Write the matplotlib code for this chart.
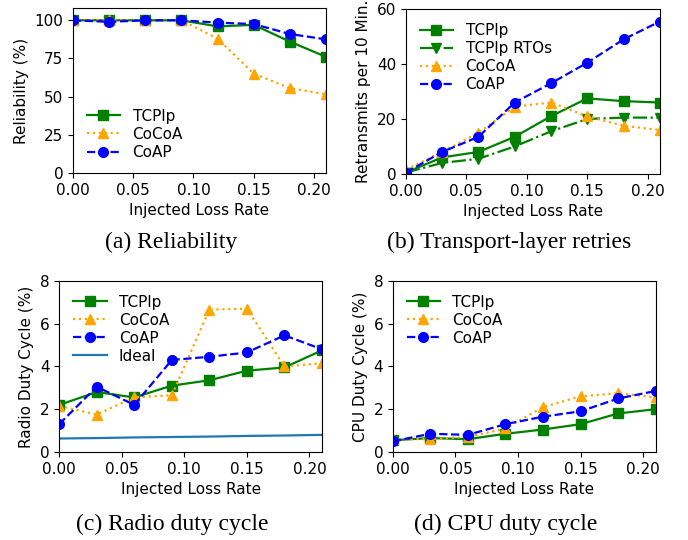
import matplotlib
matplotlib.use("Agg")
from matplotlib import pyplot as plt

loss_rate = [0.00, 0.03, 0.06, 0.09, 0.12, 0.15, 0.18, 0.21]

# (a) reliability (%)
rel_tcplp = [100, 100, 100, 100, 96, 97, 86, 76]
rel_cocoa = [100, 100, 100, 100, 88, 65, 55.5, 51.5]
rel_coap = [100, 99, 100, 100, 98.5, 97.5, 91, 87.5]

# (b) retransmits per 10 min
ret_tcplp = [0.5, 6, 8, 13.5, 21, 27.5, 26.5, 26]
ret_tcplp_rto = [0.5, 4, 5.5, 10, 15.5, 20, 20.5, 20.5]
ret_cocoa = [1.5, 8, 15, 24.5, 26, 21, 17.5, 16]
ret_coap = [0.5, 8, 13.5, 26, 33, 40.5, 49, 55.5]

# (c) radio duty cycle (%)
radio_tcplp = [2.2, 2.8, 2.55, 3.1, 3.35, 3.8, 3.95, 4.75]
radio_cocoa = [2.15, 1.75, 2.55, 2.65, 6.65, 6.7, 4.0, 4.15]
radio_coap = [1.3, 3.05, 2.2, 4.3, 4.45, 4.65, 5.45, 4.8]
radio_ideal = [0.63, 0.65, 0.68, 0.70, 0.72, 0.75, 0.77, 0.80]

# (d) CPU duty cycle (%)
cpu_tcplp = [0.55, 0.65, 0.6, 0.85, 1.05, 1.3, 1.8, 2.0]
cpu_cocoa = [0.6, 0.6, 0.7, 1.1, 2.1, 2.6, 2.75, 2.55]
cpu_coap = [0.5, 0.85, 0.8, 1.3, 1.65, 1.9, 2.5, 2.85]

captions = ["(a) Reliability", "(b) Transport-layer retries",
            "(c) Radio duty cycle", "(d) CPU duty cycle"]

plt.rcParams["font.size"] = 11

TCPLP = dict(color="green", marker="s", linestyle="-", label="TCPlp")
RTO = dict(color="green", marker="v", linestyle="-.", label="TCPlp RTOs")
COCOA = dict(color="orange", marker="^", linestyle=":", label="CoCoA")
COAP = dict(color="blue", marker="o", linestyle="--", label="CoAP")
LEG = dict(frameon=False, labelspacing=0.2, handlelength=2.2)


def style(ax, ylabel, ylim, yticks):
    ax.set_xlim(0, 0.21)
    ax.set_xticks([0, 0.05, 0.10, 0.15, 0.20])
    ax.set_xticklabels(["0.00", "0.05", "0.10", "0.15", "0.20"])
    ax.set_ylim(*ylim)
    ax.set_yticks(yticks)
    ax.set_xlabel("Injected Loss Rate")
    ax.set_ylabel(ylabel)


fig = plt.figure(figsize=(6.88, 5.4), dpi=100)
lw, ms = 1.6, 7

ax_a = fig.add_axes([0.106, 0.680, 0.368, 0.305])
ax_a.plot(loss_rate, rel_tcplp, lw=lw, ms=ms, **TCPLP)
ax_a.plot(loss_rate, rel_cocoa, lw=lw, ms=ms, **COCOA)
ax_a.plot(loss_rate, rel_coap, lw=lw, ms=ms, **COAP)
style(ax_a, "Reliability (%)", (0, 108), [0, 25, 50, 75, 100])
ax_a.legend(loc="lower left", bbox_to_anchor=(0.0, -0.005), **LEG)

ax_b = fig.add_axes([0.590, 0.678, 0.369, 0.305])
ax_b.plot(loss_rate, ret_tcplp, lw=lw, ms=ms, **TCPLP)
ax_b.plot(loss_rate, ret_tcplp_rto, lw=lw, ms=ms, **RTO)
ax_b.plot(loss_rate, ret_cocoa, lw=lw, ms=ms, **COCOA)
ax_b.plot(loss_rate, ret_coap, lw=lw, ms=ms, **COAP)
style(ax_b, "Retransmits per 10 Min.", (0, 60), [0, 20, 40, 60])
ax_b.legend(loc="upper left", **LEG)

ax_c = fig.add_axes([0.086, 0.163, 0.382, 0.317])
ax_c.plot(loss_rate, radio_tcplp, lw=lw, ms=ms, **TCPLP)
ax_c.plot(loss_rate, radio_cocoa, lw=lw, ms=ms, **COCOA)
ax_c.plot(loss_rate, radio_coap, lw=lw, ms=ms, **COAP)
ax_c.plot(loss_rate, radio_ideal, color="tab:blue", lw=lw, label="Ideal")
style(ax_c, "Radio Duty Cycle (%)", (0, 8), [0, 2, 4, 6, 8])
ax_c.legend(loc="upper left", **LEG)

ax_d = fig.add_axes([0.571, 0.163, 0.382, 0.317])
ax_d.plot(loss_rate, cpu_tcplp, lw=lw, ms=ms, **TCPLP)
ax_d.plot(loss_rate, cpu_cocoa, lw=lw, ms=ms, **COCOA)
ax_d.plot(loss_rate, cpu_coap, lw=lw, ms=ms, **COAP)
style(ax_d, "CPU Duty Cycle (%)", (0, 8), [0, 2, 4, 6, 8])
ax_d.legend(loc="upper left", **LEG)

serif = dict(family="Liberation Serif", fontsize=17, ha="center", va="center")
fig.text(171 / 688, 1 - 242 / 540, captions[0], **serif)
fig.text(509 / 688, 1 - 242 / 540, captions[1], **serif)
fig.text(172 / 688, 1 - 524 / 540, captions[2], **serif)
fig.text(506 / 688, 1 - 524 / 540, captions[3], **serif)

fig.savefig("out.png", dpi=100)
